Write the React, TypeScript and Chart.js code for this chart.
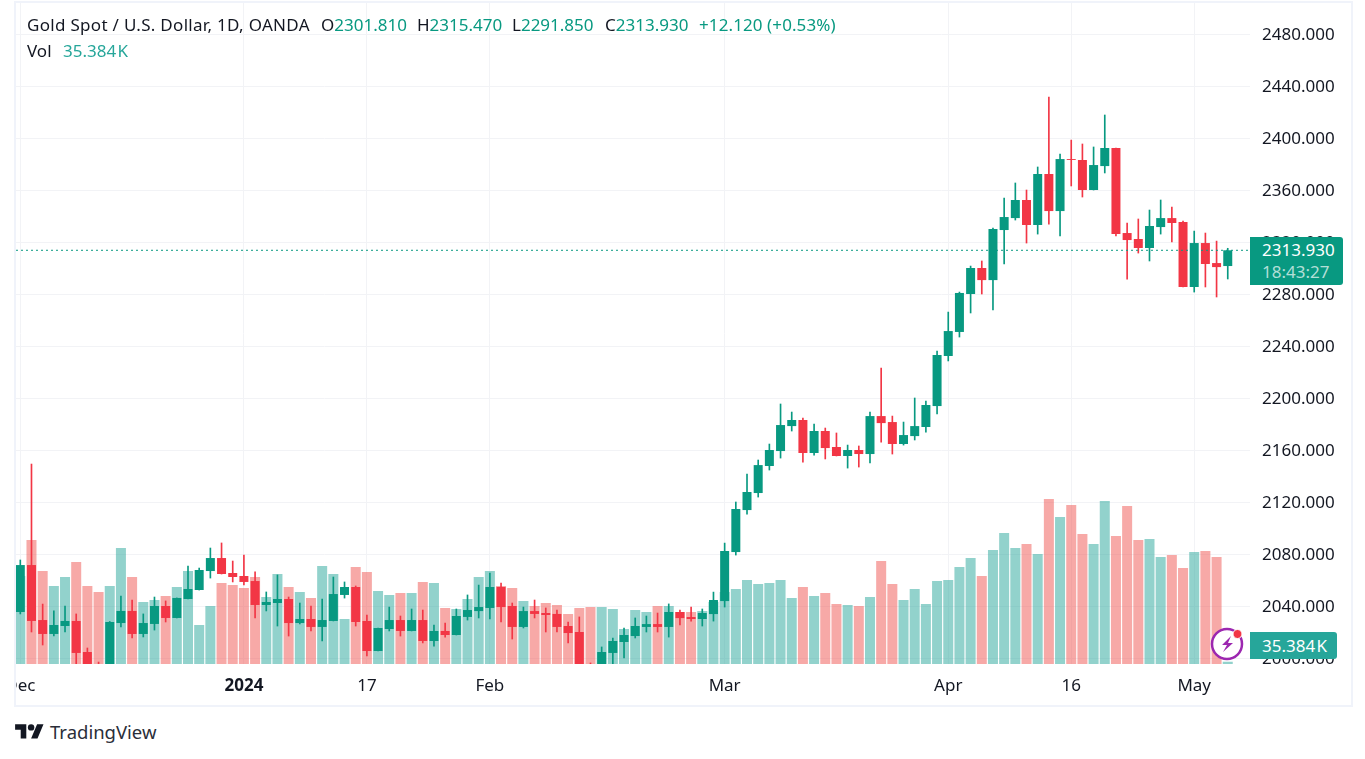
import React, { useEffect, useRef } from 'react';
import { Chart, registerables } from 'chart.js';

Chart.register(...registerables);

const FONT = '"Noto Sans", sans-serif';
const GREEN = '#089981';
const RED = '#f23645';
const VOL_GREEN = 'rgba(38,166,154,0.5)';
const VOL_RED = 'rgba(239,83,80,0.5)';
const GRID = '#f2f3f6';
const TEXT = '#131722';

// daily candles, Dec 2023 to May 2024 (values below ~1995.7 are cut off by the volume pane)
const opens = [
  2035.7, 2071.8, 2029.5, 2018.8, 2024.9, 2028.8, 2004.9, 1985, 1982, 2027.2, 2036.5, 2018.8, 2026.5, 2040.3, 2031.1, 2045.7, 2052.6, 2067.2, 2077.2, 2065.7, 2063.4, 2059.5,
  2041.1, 2042.6, 2045.7, 2027.2, 2030.3, 2024.2, 2028.8, 2048.8, 2054.9, 2028.8, 2005.7, 2022.6, 2029.5, 2021.1, 2029.5, 2013.4, 2021.1, 2018, 2031.9, 2036.4, 2038.8, 2054.9,
  2040.3, 2024.2, 2036.4, 2034.9, 2034.2, 2024.9, 2020.3, 1990, 1985, 2004.2, 2012.6, 2017.2, 2024.2, 2026.4, 2024.2, 2035.7, 2031.8, 2030.3, 2034.1, 2044.1, 2081.8, 2114.1,
  2127.2, 2148, 2159.5, 2178.7, 2183.4, 2158, 2174.9, 2162.6, 2155.7, 2160.3, 2157.2, 2186.4, 2181.8, 2164.9, 2171, 2178, 2194.1, 2232.6, 2251.1, 2280.3, 2300.3, 2291,
  2329.5, 2338.7, 2352.6, 2333.4, 2372.6, 2344.1, 2384.1, 2383.4, 2360.3, 2378.7, 2392.6, 2327.2, 2322.6, 2315.7, 2331.8, 2338.7, 2335.7, 2285.7, 2319.5, 2304.1, 2301.81,
];
const highs = [
  2075.7, 2149.5, 2041.8, 2036.5, 2040.3, 2034.2, 2008, 1997.2, 2028.4, 2048, 2044.9, 2034.2, 2047.2, 2044.2, 2046.5, 2071.1, 2069.5, 2084.9, 2088.8, 2074.9, 2079.5, 2066.5,
  2051.1, 2064.2, 2047.2, 2042.6, 2040.3, 2045.7, 2062.6, 2058.8, 2055.7, 2033.4, 2023.4, 2039.5, 2032.6, 2038, 2037.2, 2025.7, 2027.2, 2038, 2048.8, 2056.4, 2065.7, 2058,
  2042.6, 2039.5, 2044.9, 2038.8, 2037.2, 2028, 2031.9, 1996.5, 2008.8, 2015.7, 2023.4, 2031.1, 2032.6, 2034.9, 2041.9, 2037.2, 2039.5, 2038, 2051, 2088.7, 2120.3, 2141.8,
  2152.6, 2164.9, 2195.7, 2189.5, 2184.9, 2180.3, 2177.2, 2173.4, 2164.1, 2163.4, 2189.5, 2223.4, 2186.4, 2181.8, 2200.3, 2198, 2236.4, 2266.4, 2281.8, 2301.8, 2305.7, 2331,
  2354.1, 2365.7, 2360.3, 2378, 2431.8, 2388, 2398.7, 2395.7, 2393.4, 2418, 2392.6, 2334.9, 2338, 2344.9, 2352.6, 2347.2, 2336.4, 2328.7, 2327.2, 2321, 2315.47,
];
const lows = [
  2034.2, 2020.3, 2010.3, 2017.2, 2020.3, 1994, 1978, 1973, 1975, 2024.2, 2015.7, 2016.5, 2021.8, 2028, 2031.1, 2045.7, 2052.6, 2061.8, 2064.9, 2058.8, 2056.5, 2031.1,
  2036.5, 2024.9, 2017.2, 2026.5, 2021.1, 2013.4, 2028.8, 2046.4, 2024.9, 2001.9, 2005.7, 2021.1, 2017.2, 2021.1, 2011.9, 2009.5, 2016.4, 2018, 2029.5, 2031.1, 2030.3, 2028,
  2014.9, 2023.4, 2031.1, 2020.3, 2020.3, 2011.9, 1985, 1982, 1983, 1994, 2000.3, 2015.7, 2020.3, 2020.3, 2016.4, 2025.7, 2028.7, 2024.9, 2028.7, 2039.5, 2079.5, 2111,
  2124.1, 2144.9, 2154.1, 2174.9, 2151, 2156.4, 2153.4, 2155.7, 2146.4, 2147.2, 2150.3, 2166.4, 2157.2, 2164.1, 2168, 2174.1, 2188, 2228.8, 2247.2, 2265.7, 2280.3, 2268,
  2303.4, 2337.2, 2319.5, 2326.4, 2334.1, 2324.9, 2363.4, 2354.9, 2360.3, 2373.4, 2324.9, 2291.8, 2311.8, 2305.7, 2326.4, 2320.3, 2285.7, 2281.8, 2285.7, 2278, 2291.85,
];
const closes = [
  2071.8, 2028.8, 2018.8, 2025.7, 2028.8, 2004.2, 1982, 1978, 2028, 2036.5, 2018.8, 2027.2, 2040.3, 2031.1, 2046.5, 2053.4, 2068, 2077.2, 2064.9, 2062.6, 2058.8, 2041.1,
  2043.4, 2045.7, 2027.2, 2030.3, 2024.2, 2029.5, 2049.5, 2054.9, 2028, 2005.7, 2023.4, 2029.5, 2021.1, 2029.5, 2013.4, 2021.1, 2018, 2032.6, 2037.2, 2039.5, 2054.9, 2039.5,
  2024.2, 2036.4, 2034.2, 2033.4, 2024.2, 2019.5, 1990, 1985, 2004.9, 2013.4, 2018, 2024.9, 2026.4, 2024.2, 2035.7, 2031, 2030.3, 2034.9, 2044.9, 2082.6, 2114.9, 2128,
  2148.7, 2160.3, 2179.5, 2183.4, 2158, 2174.9, 2161.8, 2155.7, 2160.3, 2157.2, 2186.4, 2181, 2164.9, 2171.8, 2178.7, 2194.9, 2233.4, 2251.8, 2281.1, 2300.3, 2291, 2330.3,
  2339.5, 2352.6, 2333.4, 2372.6, 2344.1, 2384.1, 2383.4, 2360.3, 2379.5, 2392.6, 2326.4, 2321.8, 2315.7, 2332.6, 2338.7, 2334.9, 2285.7, 2319.5, 2303.4, 2301, 2313.93,
];
// thousands
const volumes = [
  164, 218, 171.5, 149, 162.5, 185, 149, 140, 149, 206, 162.5, 125, 128, 134, 147.5, 171.5, 90.5, 119, 153.5, 150.5, 146, 162.5,
  132.5, 167, 147.5, 140, 131, 179, 167, 99.5, 177.5, 170, 141.5, 135.5, 138.5, 138.5, 155, 153.5, 116, 114.5, 129.5, 162.5, 171.5, 149,
  146, 126.5, 119, 123.5, 120.5, 107, 116, 117.5, 117.5, 114.5, 84.5, 113, 110, 119, 119, 110, 110, 111.5, 125, 140, 144.5, 158,
  152, 153.5, 158, 131, 147.5, 134, 138.5, 122, 120.5, 119, 132.5, 186.5, 152, 128, 144.5, 122, 156.5, 158, 177.5, 191, 164, 203,
  228.5, 206, 212, 197, 279.5, 252.5, 270.5, 227, 212, 276.5, 224, 269, 218, 219.5, 192.5, 195.5, 176, 200, 201.5, 192.5, 35.384,
];

const priceTicks = [2000, 2040, 2080, 2120, 2160, 2200, 2240, 2280, 2320, 2360, 2400, 2440, 2480];
const dateTicks = [0, 20, 31, 42, 63, 83, 94, 105];
const dateLabels = ['Dec', '2024', '17', 'Feb', 'Mar', 'Apr', '16', 'May'];

const ohlcLegend = [
  { left: 321, label: 'O', value: '2301.810' },
  { left: 417, label: 'H', value: '2315.470' },
  { left: 512, label: 'L', value: '2291.850' },
  { left: 605, label: 'C', value: '2313.930' },
];

const legendText: React.CSSProperties = {
  position: 'absolute',
  fontFamily: FONT,
  fontSize: 17,
  lineHeight: '20px',
  whiteSpace: 'nowrap',
  color: TEXT,
};

const App: React.FC = () => {
  const chartRef = useRef<HTMLCanvasElement>(null);

  useEffect(() => {
    if (!chartRef.current) return;

    const last = closes[closes.length - 1];
    const indexes = closes.map((_, i) => i);
    const candleColors = closes.map((c, i) => (c >= opens[i] ? GREEN : RED));
    const volumeColors = closes.map((c, i) => (c >= opens[i] ? VOL_GREEN : VOL_RED));

    const xMin = -0.385;
    const xMax = 109.99;

    const chart = new Chart(chartRef.current, {
      type: 'bar',
      data: {
        datasets: [
          {
            type: 'line',
            data: [
              { x: xMin, y: last },
              { x: xMax, y: last },
            ],
            borderColor: GREEN,
            borderWidth: 1,
            borderDash: [2, 3],
            pointRadius: 0,
            yAxisID: 'y',
            order: 0,
          },
          {
            data: indexes.map((i) => ({ x: i, y: [opens[i], closes[i]] })),
            backgroundColor: candleColors,
            barThickness: 9,
            grouped: false,
            inflateAmount: 0,
            yAxisID: 'y',
            order: 1,
          },
          {
            data: indexes.map((i) => ({ x: i, y: [lows[i], highs[i]] })),
            backgroundColor: candleColors,
            barThickness: 1,
            grouped: false,
            yAxisID: 'y',
            order: 2,
          },
          {
            data: indexes.map((i) => ({ x: i, y: volumes[i] })),
            backgroundColor: volumeColors,
            barThickness: 10,
            grouped: false,
            inflateAmount: 0,
            yAxisID: 'vol',
            order: 3,
          },
        ],
      } as any,
      options: {
        animation: false,
        responsive: false,
        layout: { padding: 0 },
        plugins: {
          legend: { display: false },
          tooltip: { enabled: false },
        },
        scales: {
          x: {
            type: 'linear',
            offset: false,
            min: xMin,
            max: xMax,
            afterBuildTicks: (scale: any) => {
              scale.ticks = dateTicks.map((value) => ({ value }));
            },
            afterFit: (scale: any) => {
              scale.height = 41;
              scale.paddingLeft = 0;
              scale.paddingRight = 0;
            },
            grid: { color: GRID, drawTicks: false, offset: false },
            border: { display: false },
            ticks: {
              autoSkip: false,
              maxRotation: 0,
              padding: 12,
              color: TEXT,
              // the year label is bold
              font: (ctx: any) => ({
                family: FONT,
                size: 17,
                weight: ctx.tick && ctx.tick.value === 20 ? 'bold' : 'normal',
              }),
              callback: (value: any) => dateLabels[dateTicks.indexOf(value)],
            },
          },
          y: {
            position: 'right',
            min: 1995.69,
            max: 2504.15,
            afterBuildTicks: (scale: any) => {
              scale.ticks = priceTicks.map((value) => ({ value }));
            },
            afterFit: (scale: any) => {
              scale.width = 101;
              scale.paddingTop = 0;
              scale.paddingBottom = 0;
            },
            grid: { color: GRID, drawTicks: false },
            border: { display: false },
            ticks: {
              padding: 12,
              labelOffset: 1,
              color: TEXT,
              font: { family: FONT, size: 17 },
              callback: (value: any) => Number(value).toFixed(3),
            },
          },
          // volume bars sit on the bottom of the pane, scale is in thousands
          vol: {
            display: false,
            min: 32,
            max: 1023.5,
            grid: { display: false },
          },
        },
      } as any,
    });

    return () => {
      chart.destroy();
    };
  }, []);

  return (
    <div style={{ position: 'absolute', left: 0, top: 0, width: 1365, height: 759, background: '#fff', overflow: 'hidden' }}>
      <div
        style={{
          position: 'absolute',
          left: 14,
          top: 1,
          width: 1335,
          height: 702,
          border: '2px solid #f0f3fa',
        }}
      >
        <canvas ref={chartRef} width={1335} height={702} style={{ display: 'block', width: 1335, height: 702 }} />
      </div>

      <span style={{ ...legendText, left: 27, top: 15, letterSpacing: 0.3 }}>Gold Spot / U.S. Dollar, 1D, OANDA</span>
      {ohlcLegend.map((item) => (
        <span key={item.label} style={{ ...legendText, left: item.left, top: 15 }}>
          {item.label}
          <span style={{ color: GREEN }}>{item.value}</span>
        </span>
      ))}
      <span style={{ ...legendText, left: 699, top: 15, color: GREEN, letterSpacing: 0.1 }}>+12.120 (+0.53%)</span>
      <span style={{ ...legendText, left: 27, top: 41 }}>Vol</span>
      <span style={{ ...legendText, left: 63, top: 41, color: '#26a69a', wordSpacing: -3 }}>35.384 K</span>

      <div
        style={{
          position: 'absolute',
          left: 1250,
          top: 237,
          width: 93,
          height: 48,
          background: GREEN,
          borderRadius: '0 3px 3px 0',
          fontFamily: FONT,
          fontSize: 17,
          lineHeight: '22px',
          color: '#fff',
          paddingLeft: 12,
          paddingTop: 2,
          boxSizing: 'border-box',
        }}
      >
        <div>2313.930</div>
        <div style={{ color: 'rgba(255,255,255,0.7)' }}>18:43:27</div>
      </div>

      <div
        style={{
          position: 'absolute',
          left: 1250,
          top: 632,
          width: 87,
          height: 27,
          background: '#26a69a',
          borderRadius: '0 3px 3px 0',
          fontFamily: FONT,
          fontSize: 17,
          lineHeight: '27px',
          color: '#fff',
          paddingLeft: 12,
          boxSizing: 'border-box',
          whiteSpace: 'nowrap',
          wordSpacing: -3,
        }}
      >
        35.384 K
      </div>

      <svg style={{ position: 'absolute', left: 1208, top: 625 }} width={40} height={40} viewBox="0 0 40 40">
        <circle cx={19} cy={19} r={15} fill="#fff" stroke="#9c27b0" strokeWidth={2.5} />
        <path d="M23 11 L14 20 L19 20 L15 27 L25 18 L20 18 Z" fill="#9c27b0" />
        <circle cx={29.5} cy={9} r={4.5} fill="#f23645" stroke="#fff" strokeWidth={1} />
      </svg>

      <svg style={{ position: 'absolute', left: 15, top: 721 }} width={29} height={22.4} viewBox="0 0 36 28">
        <path d="M14 22H7V11H0V4h14v18zM28 22h-8l7.5-18h8L28 22z" fill={TEXT} />
        <circle cx={20} cy={8} r={4} fill={TEXT} />
      </svg>
      <span style={{ ...legendText, left: 50, top: 722, fontSize: 18.5, color: '#2a2e39' }}>TradingView</span>
    </div>
  );
};

export default App;
